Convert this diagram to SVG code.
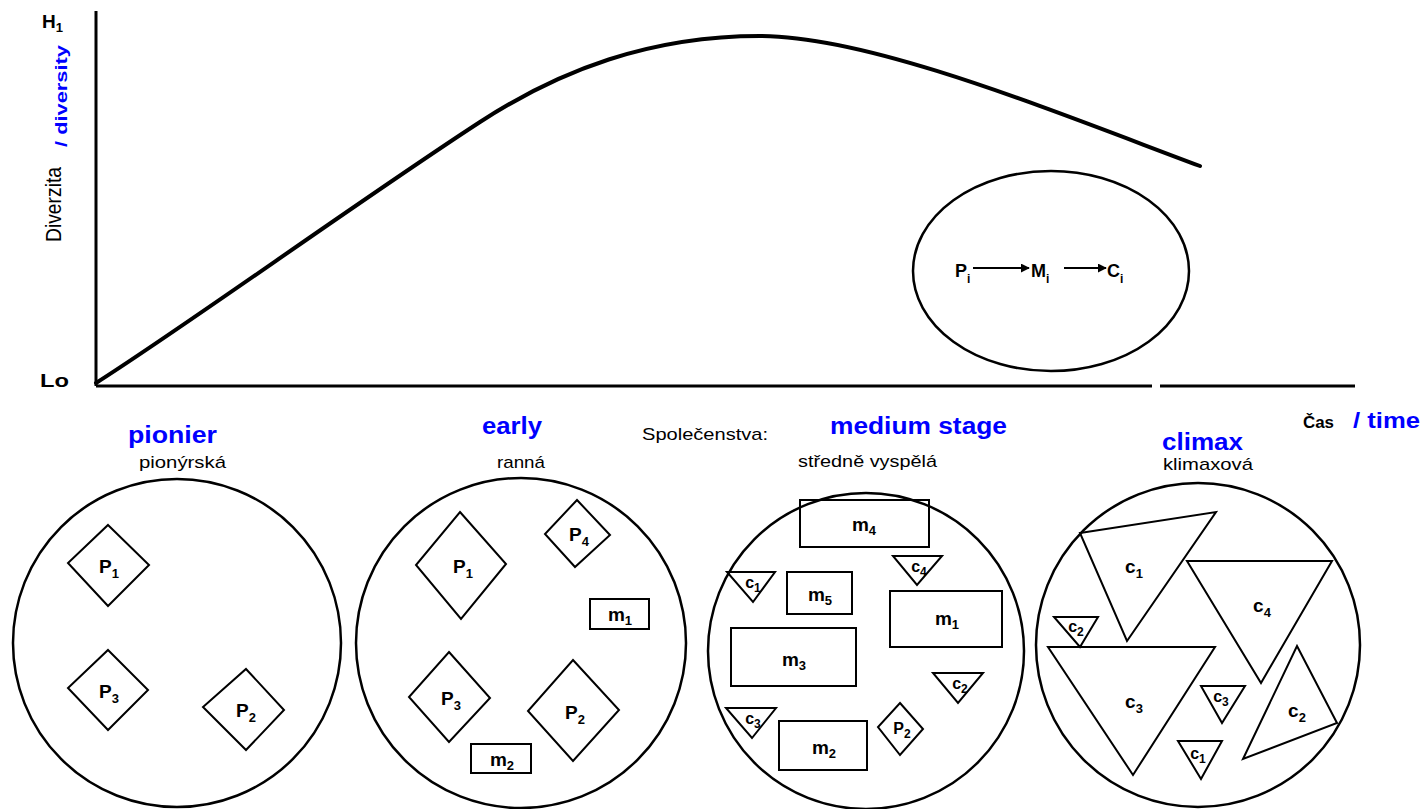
<svg xmlns="http://www.w3.org/2000/svg" width="1427" height="809" viewBox="0 0 1427 809">
<style>
.ax{fill:none;stroke:#000;stroke-width:3}
.curve{fill:none;stroke:#000;stroke-width:4;stroke-linecap:round}
.ring{fill:none;stroke:#000;stroke-width:2.5}
.sh{fill:none;stroke:#000;stroke-width:2;stroke-linejoin:miter}
.lbl{font-family:"Liberation Sans",Arial,sans-serif;font-size:19px;font-weight:bold;text-anchor:middle;fill:#000}
.sub{font-size:13px}
.sm{font-size:16px}
.ssub{font-size:12px}
.blk{font-family:"Liberation Sans",Arial,sans-serif;fill:#000}
.blue{font-family:"Liberation Sans",Arial,sans-serif;font-weight:bold;fill:#0000ff}
.arr{stroke:#000;stroke-width:1.8;fill:none}
</style>
<defs>
<marker id="ah" viewBox="0 0 10 10" refX="9" refY="5" markerWidth="9" markerHeight="9" markerUnits="userSpaceOnUse" orient="auto">
<path d="M0,0 L10,5 L0,10 z" fill="#000"/>
</marker>
</defs>
<rect width="1427" height="809" fill="#fff"/>

<g id="axes">
<line class="ax" x1="96" y1="11" x2="96" y2="386"/>
<line class="ax" x1="96" y1="386" x2="1152" y2="386"/>
<line class="ax" x1="1160" y1="386" x2="1355" y2="386"/>
<text class="blk" x="42" y="28" font-size="19" font-weight="bold">H<tspan font-size="13" dy="4">1</tspan></text>
<text class="blk" x="40" y="387" font-size="18" font-weight="bold" textLength="29" lengthAdjust="spacingAndGlyphs">Lo</text>
<text class="blk" transform="translate(61,242) rotate(-90)" font-size="22" textLength="75" lengthAdjust="spacingAndGlyphs">Diverzita</text>
<text class="blue" transform="translate(67,147) rotate(-90)" font-size="17" textLength="102" lengthAdjust="spacingAndGlyphs">/ diversity</text>
<text class="blk" x="1303" y="428" font-size="17" font-weight="bold" textLength="31" lengthAdjust="spacingAndGlyphs">Čas</text>
<text class="blue" x="1353" y="428" font-size="22" textLength="67" lengthAdjust="spacingAndGlyphs">/ time</text>
</g>

<g id="curve">
<path class="curve" d="M96,383 C180,330 360,200 480,122 C560,70 650,36 760,36 C870,36 1050,110 1200,166"/>
</g>

<g id="sequence">
<ellipse class="ring" cx="1051" cy="271" rx="138" ry="100"/>
<text class="blk" x="955" y="277" font-size="18" font-weight="bold">P<tspan font-size="12" dy="6">i</tspan></text>
<text class="blk" x="1031" y="277" font-size="18" font-weight="bold">M<tspan font-size="12" dy="6">i</tspan></text>
<text class="blk" x="1107" y="277" font-size="18" font-weight="bold">C<tspan font-size="12" dy="6">i</tspan></text>
</g>

<g id="connectors">
<line class="arr" x1="973" y1="268" x2="1029" y2="268" marker-end="url(#ah)"/>
<line class="arr" x1="1064" y1="268" x2="1106" y2="268" marker-end="url(#ah)"/>
</g>

<g id="labels">
<text class="blue" x="128" y="443" font-size="23" textLength="89" lengthAdjust="spacingAndGlyphs">pionier</text>
<text class="blk" x="139" y="468" font-size="17" textLength="87" lengthAdjust="spacingAndGlyphs">pionýrská</text>
<text class="blue" x="482" y="434" font-size="23" textLength="60" lengthAdjust="spacingAndGlyphs">early</text>
<text class="blk" x="497" y="468" font-size="17" textLength="48" lengthAdjust="spacingAndGlyphs">ranná</text>
<text class="blk" x="642" y="440" font-size="17" textLength="126" lengthAdjust="spacingAndGlyphs">Společenstva:</text>
<text class="blue" x="830" y="434" font-size="23" textLength="177" lengthAdjust="spacingAndGlyphs">medium stage</text>
<text class="blk" x="798" y="467" font-size="17" textLength="139" lengthAdjust="spacingAndGlyphs">středně vyspělá</text>
<text class="blue" x="1162" y="450" font-size="23" textLength="81" lengthAdjust="spacingAndGlyphs">climax</text>
<text class="blk" x="1163" y="470" font-size="17" textLength="90" lengthAdjust="spacingAndGlyphs">klimaxová</text>
</g>

<g id="community-pioneer">
<circle class="ring" cx="177" cy="643" r="164"/>
<polygon class="sh" points="108,525 149,565 108,606 68,563"/>
<text class="lbl" x="109" y="573">P<tspan class="sub" dy="5">1</tspan></text>
<polygon class="sh" points="108,650 148,690 108,730 68,688"/>
<text class="lbl" x="109" y="698">P<tspan class="sub" dy="5">3</tspan></text>
<polygon class="sh" points="246,669 284,710 246,750 203,707"/>
<text class="lbl" x="246" y="717">P<tspan class="sub" dy="5">2</tspan></text>
</g>

<g id="community-early">
<circle class="ring" cx="521" cy="643" r="165"/>
<polygon class="sh" points="460,512 506,564 461,619 416,565"/>
<text class="lbl" x="463" y="573">P<tspan class="sub" dy="5">1</tspan></text>
<polygon class="sh" points="577,500 610,535 575,567 545,534"/>
<text class="lbl" x="579" y="541">P<tspan class="sub" dy="5">4</tspan></text>
<rect class="sh" x="590" y="599" width="59" height="30"/>
<text class="lbl" x="620" y="621">m<tspan class="sub" dy="4">1</tspan></text>
<polygon class="sh" points="449,652 490,698 449,742 409,697"/>
<text class="lbl" x="451" y="705">P<tspan class="sub" dy="5">3</tspan></text>
<polygon class="sh" points="573,660 619,710 573,761 528,711"/>
<text class="lbl" x="575" y="719">P<tspan class="sub" dy="5">2</tspan></text>
<rect class="sh" x="471" y="744" width="60" height="29"/>
<text class="lbl" x="502" y="766">m<tspan class="sub" dy="4">2</tspan></text>
</g>

<g id="community-medium">
<circle class="ring" cx="866" cy="651" r="158"/>
<rect class="sh" x="800" y="500" width="129" height="47"/>
<text class="lbl" x="864" y="531">m<tspan class="sub" dy="4">4</tspan></text>
<polygon class="sh" points="893,556 942,556 917,585"/>
<text class="lbl sm" x="919" y="572">c<tspan class="ssub" dy="4">4</tspan></text>
<polygon class="sh" points="727,572 775,572 753,602"/>
<text class="lbl sm" x="753" y="588">c<tspan class="ssub" dy="4">1</tspan></text>
<rect class="sh" x="787" y="572" width="65" height="42"/>
<text class="lbl" x="820" y="601">m<tspan class="sub" dy="4">5</tspan></text>
<rect class="sh" x="890" y="591" width="112" height="56"/>
<text class="lbl" x="947" y="625">m<tspan class="sub" dy="4">1</tspan></text>
<rect class="sh" x="731" y="628" width="125" height="58"/>
<text class="lbl" x="794" y="666">m<tspan class="sub" dy="4">3</tspan></text>
<polygon class="sh" points="933,673 983,673 958,703"/>
<text class="lbl sm" x="960" y="689">c<tspan class="ssub" dy="4">2</tspan></text>
<polygon class="sh" points="726,708 776,708 752,738"/>
<text class="lbl sm" x="753" y="724">c<tspan class="ssub" dy="4">3</tspan></text>
<rect class="sh" x="779" y="721" width="88" height="49"/>
<text class="lbl" x="824" y="754">m<tspan class="sub" dy="4">2</tspan></text>
<polygon class="sh" points="900,703 923,729 900,755 878,727"/>
<text class="lbl sm" x="902" y="734">P<tspan class="ssub" dy="4">2</tspan></text>
</g>

<g id="community-climax">
<circle class="ring" cx="1198" cy="645" r="162"/>
<polygon class="sh" points="1080,533 1216,512 1127,641"/>
<text class="lbl" x="1134" y="573">c<tspan class="sub" dy="5">1</tspan></text>
<polygon class="sh" points="1187,561 1332,561 1261,683"/>
<text class="lbl" x="1262" y="612">c<tspan class="sub" dy="5">4</tspan></text>
<polygon class="sh" points="1054,617 1098,617 1080,647"/>
<text class="lbl sm" x="1076" y="632">c<tspan class="ssub" dy="4">2</tspan></text>
<polygon class="sh" points="1048,647 1215,647 1133,775"/>
<text class="lbl" x="1134" y="708">c<tspan class="sub" dy="5">3</tspan></text>
<polygon class="sh" points="1201,686 1245,686 1222,723"/>
<text class="lbl sm" x="1221" y="702">c<tspan class="ssub" dy="4">3</tspan></text>
<polygon class="sh" points="1178,741 1222,741 1201,779"/>
<text class="lbl sm" x="1198" y="759">c<tspan class="ssub" dy="4">1</tspan></text>
<polygon class="sh" points="1297,646 1337,723 1243,759"/>
<text class="lbl" x="1297" y="717">c<tspan class="sub" dy="5">2</tspan></text>
</g>
</svg>
